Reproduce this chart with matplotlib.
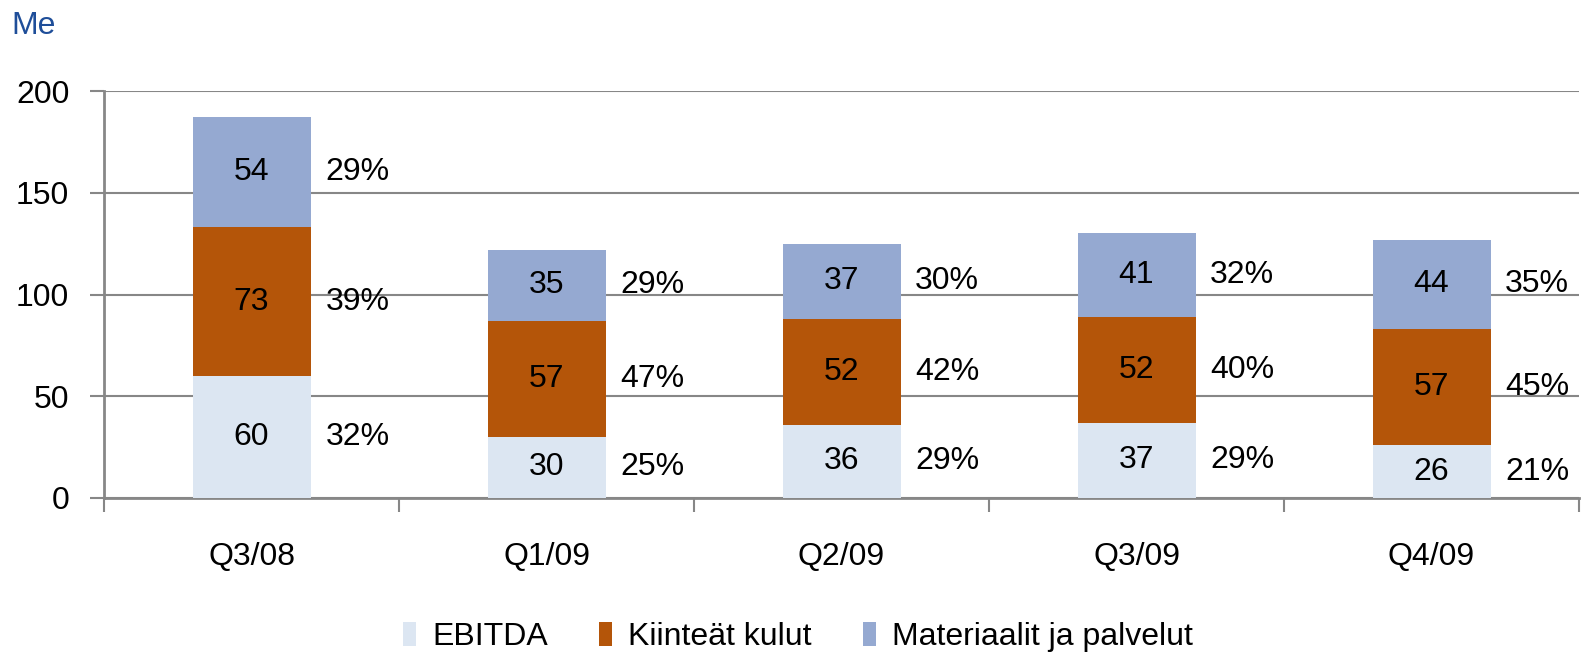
import matplotlib.pyplot as plt
import numpy as np

# data
quarters = ['Q3/08', 'Q1/09', 'Q2/09', 'Q3/09', 'Q4/09']
ebitda = [60, 30, 36, 37, 26]
kiinteat = [73, 57, 52, 52, 57]
materiaalit = [54, 35, 37, 41, 44]
ebitda_pct = ['32%', '25%', '29%', '29%', '21%']
kiinteat_pct = ['39%', '47%', '42%', '40%', '45%']
materiaalit_pct = ['29%', '29%', '30%', '32%', '35%']

c_ebitda = '#DCE6F2'
c_kiint = '#B45509'
c_mat = '#95A9D1'
grey = '#878787'

plt.rcParams['font.family'] = ['Liberation Sans', 'DejaVu Sans']
fs = 23

fig = plt.figure(figsize=(15.86, 6.55), dpi=100)
ax = fig.add_axes([0.0656, 0.2397, 0.93, 0.6213])

x = np.arange(len(quarters))
w = 0.4
b1 = ax.bar(x, ebitda, w, color=c_ebitda, label='EBITDA', zorder=3)
b2 = ax.bar(x, kiinteat, w, bottom=ebitda, color=c_kiint, label='Kiinteät kulut', zorder=3)
bottom3 = np.array(ebitda) + np.array(kiinteat)
b3 = ax.bar(x, materiaalit, w, bottom=bottom3, color=c_mat, label='Materiaalit ja palvelut', zorder=3)

# value labels inside bars and share labels next to them
for i in range(len(quarters)):
    segs = [(0, ebitda[i], ebitda_pct[i]),
            (ebitda[i], kiinteat[i], kiinteat_pct[i]),
            (bottom3[i], materiaalit[i], materiaalit_pct[i])]
    for base, val, pct in segs:
        yc = base + val / 2
        ax.text(x[i], yc, str(val), ha='center', va='center', fontsize=fs, zorder=4)
        ax.text(x[i] + w / 2 + 0.05, yc, pct, ha='left', va='center', fontsize=fs, zorder=4)

ax.set_xlim(-0.5, len(quarters) - 0.5)
ax.set_ylim(0, 200)
ax.set_yticks([0, 50, 100, 150, 200])
ax.yaxis.grid(True, color=grey, linewidth=1.5, zorder=0)
ax.set_axisbelow(True)

ax.set_xticks(x)
ax.set_xticklabels(quarters)
ax.set_xticks(np.arange(-0.5, len(quarters), 1.0), minor=True)
ax.tick_params(axis='x', which='major', length=0, pad=32, labelsize=fs)
ax.tick_params(axis='x', which='minor', length=10, width=1.5, color=grey, direction='out')
ax.tick_params(axis='y', length=10, width=1.5, color=grey, direction='out', pad=15, labelsize=fs)

for s in ['top', 'right']:
    ax.spines[s].set_visible(False)
for s in ['left', 'bottom']:
    ax.spines[s].set_color(grey)
    ax.spines[s].set_linewidth(2)

fig.text(0.007, 0.960, 'Me', color='#1F4E99', fontsize=23, ha='left', va='center')

leg = fig.legend(handles=[b1, b2, b3], loc='center', bbox_to_anchor=(0.503, 0.027), ncol=3,
                 frameon=False, handlelength=0.42, handleheight=0.75,
                 handletextpad=0.5, columnspacing=1.6,
                 prop={'family': ['Liberation Sans'], 'size': 23})

fig.savefig('out.png', dpi=100)
